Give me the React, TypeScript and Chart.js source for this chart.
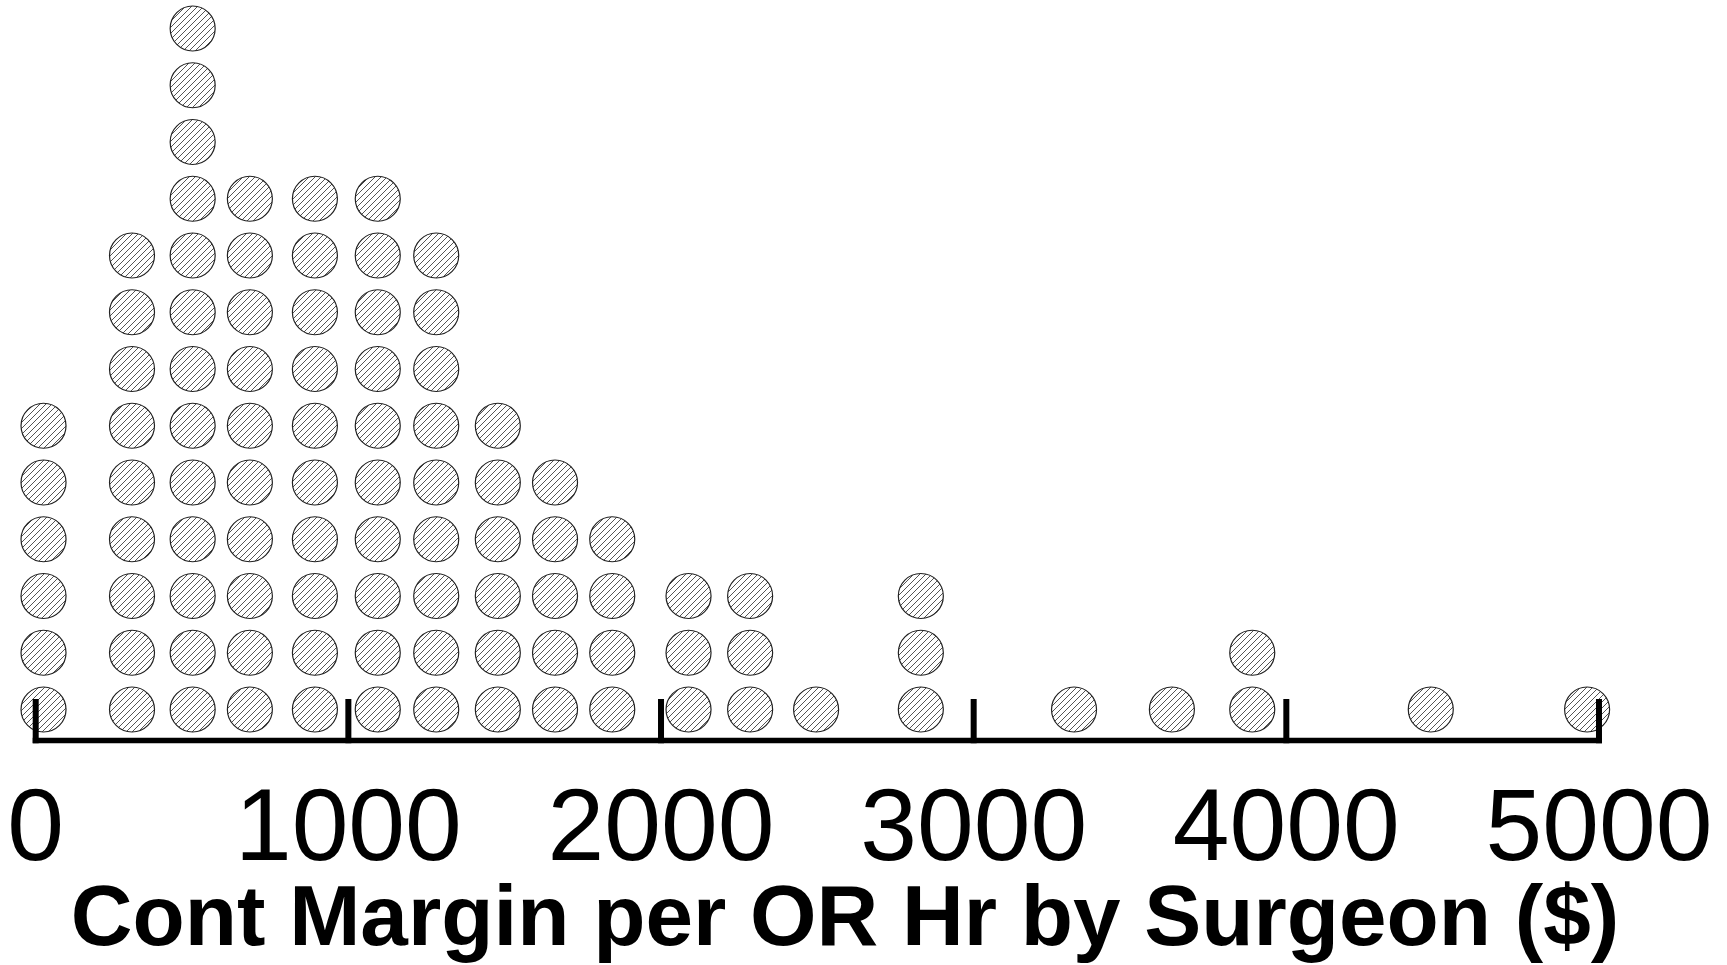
import React, { useEffect, useRef } from "react";
import { Chart, registerables } from "chart.js";

Chart.register(...registerables);

// Dot-plot data: each bin position ($) and how many surgeons fall in it
const binValues = [25, 308, 502, 685, 893, 1094, 1281, 1478, 1661, 1844, 2088, 2285, 2496, 2831, 3321, 3634, 3891, 4462, 4962];
const binCounts = [6, 9, 13, 10, 10, 10, 9, 6, 5, 4, 3, 3, 1, 3, 1, 1, 2, 1, 1];
const tickValues = [0, 1000, 2000, 3000, 4000, 5000];
const axisTitle = "Cont Margin per OR Hr by Surgeon ($)";

const FONT = "'Liberation Sans', Arial, Helvetica, sans-serif";

function makeHatch(): CanvasPattern | string {
  const c = document.createElement("canvas");
  c.width = 6;
  c.height = 6;
  const g = c.getContext("2d");
  if (!g) return "#ddd";
  g.fillStyle = "#ffffff";
  g.fillRect(0, 0, 6, 6);
  g.strokeStyle = "#555555";
  g.lineWidth = 1;
  g.beginPath();
  g.moveTo(-1, 7);
  g.lineTo(7, -1);
  g.moveTo(-1, 1);
  g.lineTo(1, -1);
  g.moveTo(5, 7);
  g.lineTo(7, 5);
  g.stroke();
  return g.createPattern(c, "repeat") || "#ddd";
}

const axisPlugin = {
  id: "dotAxis",
  afterDatasetsDraw(chart: any) {
    const xs = chart.scales.x;
    const y = chart.chartArea.bottom;
    const ctx = chart.ctx;
    const x0 = xs.getPixelForValue(tickValues[0]);
    const x1 = xs.getPixelForValue(tickValues[tickValues.length - 1]);
    ctx.save();
    ctx.strokeStyle = "#000";
    ctx.lineCap = "butt";
    ctx.lineWidth = 5.5;
    ctx.beginPath();
    ctx.moveTo(x0 - 3, y);
    ctx.lineTo(x1 + 3, y);
    ctx.stroke();
    ctx.lineWidth = 6;
    ctx.beginPath();
    for (const v of tickValues) {
      const px = xs.getPixelForValue(v);
      ctx.moveTo(px, y + 2.75);
      ctx.lineTo(px, y - 41.5);
    }
    ctx.stroke();
    ctx.restore();
  },
};

export default function App() {
  const canvasRef = useRef<HTMLCanvasElement | null>(null);

  useEffect(() => {
    if (!canvasRef.current) return;
    const points: { x: number; y: number }[] = [];
    binValues.forEach((v, i) => {
      for (let k = 0; k < binCounts[i]; k++) points.push({ x: v, y: k });
    });
    const hatch = makeHatch();
    const chart = new Chart(canvasRef.current, {
      type: "scatter",
      data: {
        datasets: [
          {
            data: points,
            pointRadius: 22.5,
            pointHoverRadius: 22.5,
            pointBackgroundColor: hatch as any,
            pointBorderColor: "#222",
            pointBorderWidth: 1.2,
            showLine: false,
            clip: false as any,
          },
        ],
      },
      options: {
        animation: false,
        responsive: true,
        maintainAspectRatio: false,
        events: [],
        layout: { autoPadding: false, padding: { left: 0, right: 37, top: 0, bottom: 0 } },
        plugins: {
          legend: { display: false },
          tooltip: { enabled: false },
          title: { display: false },
        },
        scales: {
          x: {
            type: "linear",
            min: -114.2,
            max: 5291.1,
            afterBuildTicks: (s: any) => {
              s.ticks = tickValues.map((v) => ({ value: v }));
            },
            afterFit: (s: any) => {
              s.paddingLeft = 0;
              s.paddingRight = 0;
            },
            ticks: {
              autoSkip: false,
              maxRotation: 0,
              minRotation: 0,
              padding: 0,
              color: "#000",
              font: { family: FONT, size: 102, lineHeight: 0.851 },
              callback: (v: any) => String(v),
            },
            grid: {
              display: true,
              drawOnChartArea: false,
              drawTicks: true,
              tickLength: 48.1,
              tickColor: "rgba(0,0,0,0)",
            },
            border: { display: false },
            title: {
              display: true,
              text: axisTitle,
              color: "#000",
              font: { family: FONT, size: 85.5, weight: "bold", lineHeight: 1 },
              padding: { top: 3.4, bottom: 0.7 },
            },
          },
          y: {
            type: "linear",
            display: false,
            min: -0.546,
            max: 12.502,
          },
        },
      },
      plugins: [axisPlugin],
    } as any);
    return () => chart.destroy();
  }, []);

  return (
    <div style={{ position: "absolute", left: 0, top: 0, width: 1727, height: 965, background: "#fff" }}>
      <canvas ref={canvasRef} />
    </div>
  );
}
